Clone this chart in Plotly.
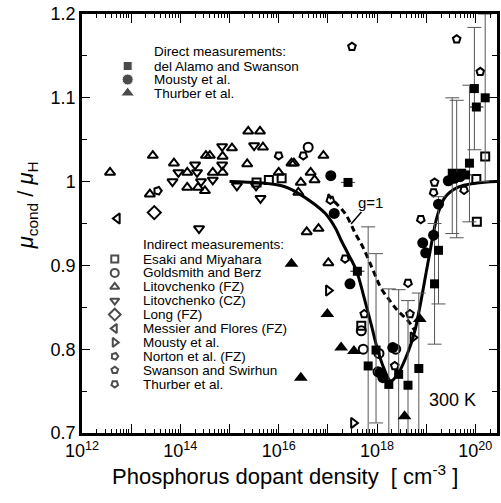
import plotly.graph_objects as go

# ---------------- data (log10 of density [cm^-3], mu_cond/mu_H) ----------------
# Direct measurements
alamo_logN = [17.41, 17.60, 17.82, 17.98, 18.24, 18.44, 18.63, 18.85, 19.17, 19.25,
              19.53, 19.62, 19.72, 19.80, 19.88, 19.98, 20.02, 20.20]
alamo_mu = [0.999, 0.893, 0.780, 0.799, 0.758, 0.770, 0.757, 0.777, 0.878, 0.918,
            1.010, 1.005, 1.010, 1.008, 1.022, 1.111, 1.089, 1.100]
alamo_err_up = [0, 0, 0.166, 0.115, 0.114, 0.101, 0.101, 0.090, 0.072, 0.064,
                0.090, 0.092, 0, 0, 0.093, 0.073, 0, 0.100]
alamo_err_dn = [0, 0, 0.166, 0.087, 0.114, 0.101, 0.101, 0.090, 0.072, 0.064,
                0.072, 0.072, 0, 0, 0.070, 0.073, 0, 0.100]

mousty_d_logN = [17.06, 17.13, 17.45, 18.06, 18.12, 18.32, 18.93, 18.99, 19.15, 19.25,
                 19.45, 19.57, 19.69]
mousty_d_mu = [1.007, 0.962, 0.878, 0.772, 0.766, 0.802, 0.927, 0.915, 0.936, 0.973,
               1.001, 1.004, 1.006]

thurber_d_logN = [16.26, 16.45, 16.99, 17.27, 17.53, 18.56, 18.87]
thurber_d_mu = [0.902, 0.766, 0.842, 0.802, 0.798, 0.720, 0.836]

# Indirect measurements
esaki_logN = [15.55, 15.80, 16.06, 17.68, 20.02, 20.20, 20.03]
esaki_mu = [0.999, 1.002, 1.004, 0.828, 1.003, 1.030, 0.952]

goldsmith_logN = [16.60, 17.68, 17.72, 18.04, 18.02, 18.38]
goldsmith_mu = [1.041, 0.822, 0.800, 0.795, 0.773, 0.800]

lito_fz_logN = [12.57, 13.44, 13.38, 13.87, 14.14, 14.14, 14.36, 14.50, 14.52, 14.60,
                14.66, 14.86, 14.86, 15.05, 15.36, 15.38, 15.62, 15.68, 16.00, 16.26,
                16.31, 16.45, 16.65, 16.73, 16.40, 16.91, 16.57, 16.81, 17.01]
lito_fz_mu = [1.011, 1.031, 0.985, 1.022, 1.011, 0.993, 0.993, 0.989, 1.031, 1.031,
              1.011, 1.011, 1.030, 1.040, 1.021, 1.060, 1.060, 1.041, 1.011, 1.022,
              1.022, 0.999, 1.011, 1.002, 0.987, 1.031, 0.940, 0.944, 0.903]

lito_cz_logN = [13.84, 13.96, 14.30, 14.34, 14.42, 14.85, 14.85, 14.66, 14.38, 15.15,
                15.50, 15.54, 15.63]
lito_cz_mu = [1.000, 1.011, 1.020, 1.011, 1.000, 1.042, 1.020, 1.002, 0.944, 0.995,
              1.043, 0.995, 0.980]

long_logN = [13.47]
long_mu = [0.963]

messier_logN = [12.72]
messier_mu = [0.956]

mousty_i_logN = [17.01, 17.52, 18.73]
mousty_i_mu = [0.870, 0.712, 0.814]

norton_logN = [13.54]
norton_mu = [0.989]

swanson_logN = [17.49, 19.62, 20.10, 19.17, 18.67, 18.36, 17.74]
swanson_mu = [1.161, 1.170, 1.131, 0.999, 0.842, 0.780, 0.842]

thurber_i_logN = [16.00, 16.50, 17.05, 17.35, 18.63, 18.89, 19.15, 19.77]
thurber_i_mu = [1.031, 1.031, 0.978, 0.908, 0.879, 0.955, 0.987, 0.990]

# Model curves
model_logN = [15.0, 16.06, 16.4, 16.75, 16.95, 17.15, 17.27, 17.41, 17.58, 17.74,
              17.88, 18.0, 18.14, 18.28, 18.44, 18.64, 18.77, 18.87, 18.97, 19.07,
              19.23, 19.38, 19.64, 20.0, 20.45]
model_mu = [1.0, 0.995, 0.986, 0.972, 0.962, 0.945, 0.930, 0.914, 0.894, 0.861,
            0.830, 0.802, 0.777, 0.762, 0.772, 0.798, 0.822, 0.850, 0.882, 0.914,
            0.960, 0.981, 0.993, 0.998, 1.0]
g1_logN = [17.0, 17.07, 17.35, 17.56, 17.72, 17.92, 18.08, 18.26, 18.42, 18.63, 18.77]
g1_mu = [0.985, 0.980, 0.962, 0.938, 0.921, 0.894, 0.873, 0.858, 0.846, 0.834, 0.822]

x_tick_exps = [12, 13, 14, 15, 16, 17, 18, 19, 20]
y_ticks = [0.7, 0.8, 0.9, 1.0, 1.1, 1.2]
y_tick_text = ["0.7", "0.8", "0.9", "1", "1.1", "1.2"]

direct_names = ["del Alamo and Swanson", "Mousty et al.", "Thurber et al."]
indirect_names = ["Esaki and Miyahara", "Goldsmith and Berz", "Litovchenko (FZ)",
                  "Litovchenko (CZ)", "Long (FZ)", "Messier and Flores (FZ)",
                  "Mousty et al.", "Norton et al. (FZ)", "Swanson and Swirhun",
                  "Thurber et al."]

# ---------------- styles ----------------
FONT = "Arial, Liberation Sans, Helvetica, sans-serif"
direct_sym = [("square", 0, 9), ("circle", 0, 11), ("triangle-up", 0, 12)]
indirect_sym = [("square-open", 0, 8), ("circle-open", 0, 9), ("triangle-up-open", 0, 9),
                ("triangle-down-open", 0, 9), ("diamond-open", 0, 10),
                ("triangle-left-open", 0, 9), ("triangle-right-open", 0, 9),
                ("pentagon-open", 90, 8), ("pentagon-open", 0, 8), ("pentagon-open", 180, 8)]


def N(lst):
    return [10.0 ** v for v in lst]


fig = go.Figure()

# curves
fig.add_trace(go.Scatter(x=N(model_logN), y=model_mu, mode="lines",
                         line=dict(color="black", width=3, shape="spline"),
                         showlegend=False, hoverinfo="skip"))
fig.add_trace(go.Scatter(x=N(g1_logN), y=g1_mu, mode="lines",
                         line=dict(color="black", width=3, dash="6px,4px", shape="spline"),
                         showlegend=False, hoverinfo="skip"))

indirect_data = [(esaki_logN, esaki_mu), (goldsmith_logN, goldsmith_mu),
                 (lito_fz_logN, lito_fz_mu), (lito_cz_logN, lito_cz_mu),
                 (long_logN, long_mu), (messier_logN, messier_mu),
                 (mousty_i_logN, mousty_i_mu), (norton_logN, norton_mu),
                 (swanson_logN, swanson_mu), (thurber_i_logN, thurber_i_mu)]
for (xs, ys), (sym, ang, sz), name in zip(indirect_data, indirect_sym, indirect_names):
    fig.add_trace(go.Scatter(x=N(xs), y=ys, mode="markers", name=name, showlegend=False,
                             marker=dict(symbol=sym, angle=ang, size=sz, color="black",
                                         line=dict(color="black", width=2))))

# direct
fig.add_trace(go.Scatter(x=N(alamo_logN), y=alamo_mu, mode="markers", showlegend=False,
                         marker=dict(symbol="square", size=9, color="black"),
                         error_y=dict(type="data", symmetric=False, array=alamo_err_up,
                                      arrayminus=alamo_err_dn, color="#555555",
                                      thickness=1, width=7)))
fig.add_trace(go.Scatter(x=N(mousty_d_logN), y=mousty_d_mu, mode="markers", showlegend=False,
                         marker=dict(symbol="circle", size=11, color="black")))
fig.add_trace(go.Scatter(x=N(thurber_d_logN), y=thurber_d_mu, mode="markers", showlegend=False,
                         marker=dict(symbol="triangle-up", size=12, color="black")))

# ---------------- legends (pixel overlay axes) ----------------
d_rows = [66 + 13.5 * i for i in range(len(direct_names))]
fig.add_trace(go.Scatter(x=[128] * len(d_rows), y=d_rows, xaxis="x2", yaxis="y2",
                         mode="markers", showlegend=False, hoverinfo="skip",
                         marker=dict(symbol=[s[0] for s in direct_sym],
                                     size=[s[2] for s in direct_sym], color="black")))
i_rows = [259 + 13.9 * i for i in range(len(indirect_names))]
fig.add_trace(go.Scatter(x=[115] * len(i_rows), y=i_rows, xaxis="x2", yaxis="y2",
                         mode="markers", showlegend=False, hoverinfo="skip",
                         marker=dict(symbol=[s[0] for s in indirect_sym],
                                     angle=[s[1] for s in indirect_sym],
                                     size=[s[2] - 1 for s in indirect_sym], color="black",
                                     line=dict(color="black", width=2))))

ann = []
ann.append(dict(x=154, y=51, text="Direct measurements:"))
for yy, nm in zip(d_rows, direct_names):
    ann.append(dict(x=154, y=yy, text=nm))
ann.append(dict(x=142, y=244, text="Indirect measurements:"))
for yy, nm in zip(i_rows, indirect_names):
    ann.append(dict(x=142, y=yy, text=nm))
annotations = [dict(xref="x2", yref="y2", xanchor="left", yanchor="middle", showarrow=False,
                    borderpad=0, font=dict(family=FONT, size=13.5, color="black"), **a)
               for a in ann]

annotations.append(dict(xref="x2", yref="y2", x=455, y=400, text="300 K", showarrow=False,
                        font=dict(family=FONT, size=18, color="black")))
annotations.append(dict(xref="x2", yref="y2", x=353, y=224, ax=19, ay=-22, text="g=1",
                        showarrow=True, arrowhead=0, arrowwidth=1.5, arrowcolor="black",
                        font=dict(family=FONT, size=15, color="black")))
annotations.append(dict(xref="paper", yref="paper", x=0.49, y=-0.10, xanchor="center",
                        yanchor="middle", showarrow=False,
                        text="Phosphorus dopant density  [ cm<sup>-3</sup> ]",
                        font=dict(family=FONT, size=22, color="black")))
annotations.append(dict(xref="paper", yref="paper", x=-0.132, y=0.544, xanchor="center",
                        yanchor="middle", showarrow=False, textangle=-90,
                        text="<i>μ</i><sub>cond</sub> / <i>μ</i><sub>H</sub>",
                        font=dict(family=FONT, size=22, color="black")))

minor_x = [k * 10.0 ** e for e in range(12, 21) for k in range(2, 10)]

fig.update_layout(
    width=501, height=503,
    margin=dict(l=82, r=1, t=14, b=70),
    paper_bgcolor="white", plot_bgcolor="white",
    font=dict(family=FONT, color="black"),
    showlegend=False,
    annotations=annotations,
    xaxis=dict(type="log", range=[12.0, 20.44], showgrid=False, zeroline=False,
               showline=True, linecolor="black", linewidth=2.5, mirror="allticks",
               ticks="inside", ticklen=9, tickwidth=1.3, tickcolor="black",
               tickmode="array", tickvals=[10.0 ** e for e in x_tick_exps],
               ticktext=[("10<sup>%d</sup>" % e) if e % 2 == 0 else "" for e in x_tick_exps],
               tickfont=dict(size=18, family=FONT),
               minor=dict(ticks="inside", ticklen=4, tickwidth=1, tickcolor="black",
                          tickmode="array", tickvals=minor_x, showgrid=False)),
    yaxis=dict(range=[0.7, 1.2], showgrid=False, zeroline=False,
               showline=True, linecolor="black", linewidth=2.5, mirror="allticks",
               ticks="inside", ticklen=8, tickwidth=1.3, tickcolor="black",
               tickmode="array", tickvals=y_ticks, ticktext=y_tick_text,
               tickfont=dict(size=18, family=FONT),
               minor=dict(ticks="inside", ticklen=5, tickwidth=1, tickcolor="black",
                          dtick=0.05, showgrid=False)),
    xaxis2=dict(overlaying="x", range=[82, 500], visible=False, anchor="y2"),
    yaxis2=dict(overlaying="y", range=[433, 14], visible=False, anchor="x2"),
)

fig.write_html("out.html")
